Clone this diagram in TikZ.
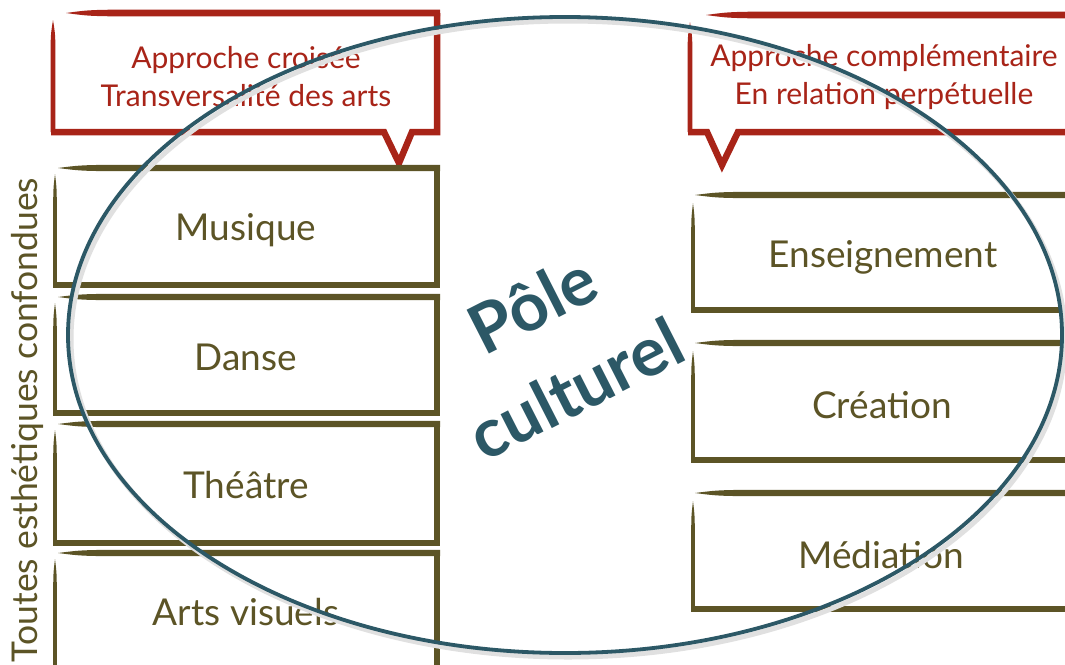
\documentclass[tikz,border=0pt]{standalone}
\usepackage{fontspec}
\setmainfont{Lato}
\definecolor{olivebr}{RGB}{92,84,38}
\definecolor{brick}{RGB}{168,36,24}
\definecolor{tealc}{RGB}{44,88,102}
\newcommand\hstroke[5]{% color, x1(tip), x2, y, half thickness
  \fill[#1] ({#2},{#4}) .. controls ({#2+25},{#4-#5}) .. ({#2+90},{#4-#5}) -- ({#3},{#4-#5}) -- ({#3},{#4+#5}) -- ({#2+90},{#4+#5}) .. controls ({#2+25},{#4+#5}) .. ({#2},{#4}) -- cycle;}
\newcommand\vstroke[5]{% color, x, y1(tip), y2, half thickness
  \fill[#1] ({#2},{#3}) .. controls ({#2-#5},{#3+15}) .. ({#2-#5},{#3+40}) -- ({#2-#5},{#4}) -- ({#2+#5},{#4}) -- ({#2+#5},{#3+40}) .. controls ({#2+#5},{#3+15}) .. ({#2},{#3}) -- cycle;}
\newcommand\leftbox[2]{%
  \hstroke{olivebr}{58}{440}{#1}{3.2}
  \draw[boxline] (437,#1) -- (437,#2) -- (53,#2);
  \vstroke{olivebr}{55}{#1+6}{#2}{1.8}}
\newcommand\rightbox[2]{%
  \hstroke{olivebr}{695}{1075}{#1}{3.2}
  \draw[boxline] (1075,#2) -- (691,#2);
  \vstroke{olivebr}{693}{#1+8}{#2}{1.8}}
\begin{document}
\begin{tikzpicture}[x=1pt,y=-1pt,
  boxline/.style={olivebr,line width=6pt,line join=miter},
  redline/.style={brick,line width=6.5pt,line join=miter},
  boxtext/.style={text=olivebr,font=\fontsize{37}{40}\selectfont,inner sep=0pt},
  calltext/.style={text=brick,font=\fontsize{30}{38}\selectfont,align=center,inner sep=0pt},
  poletext/.style={text=tealc,font=\fontsize{68}{95}\selectfont\bfseries,inner sep=0pt,align=center,rotate=27}]
\useasboundingbox (0,0) rectangle (1065,664);
\clip (0,0) rectangle (1065,664);
\fill[white] (0,0) rectangle (1065,664);
% left callout
\hstroke{brick}{66}{440}{13}{3.4}
\draw[redline] (437,13) -- (437,132) -- (412,132) -- (399,163) -- (384,132) -- (51,132);
\vstroke{brick}{53}{20}{132}{2.4}
\node[calltext] (callL) at (246,77) {Approche croisée\\Transversalité des arts};
% right callout
\hstroke{brick}{706}{1075}{15}{3.4}
\draw[redline] (1075,132) -- (738,132) -- (722,165) -- (707,132) -- (688,132);
\vstroke{brick}{690}{22}{132}{2.4}
\node[calltext] (callR) at (884,77) {Approche complémentaire\\En relation perpétuelle};
% left boxes
\leftbox{168}{285}
\leftbox{297}{413}
\leftbox{424}{543}
\leftbox{553}{690}
\node[boxtext] (musique) at (246,230) {Musique};
\node[boxtext] (danse) at (246,357) {Danse};
\node[boxtext] (theatre) at (246,485) {Théâtre};
\node[boxtext] (arts) at (246,612) {Arts visuels};
% right boxes
\rightbox{195}{310}
\rightbox{343}{460}
\rightbox{493}{609}
\node[boxtext] (ens) at (883,257) {Enseignement};
\node[boxtext] (crea) at (882,405) {Création};
\node[boxtext] (med) at (881,555) {Médiation};
% vertical label
\node[text=olivebr,font=\fontsize{35.5}{38}\selectfont,rotate=90,inner sep=0pt] (toutes) at (27,420) {Toutes esthétiques confondues};
% pole culturel
\node[poletext] (pole) at (554,346) {Pôle\\culturel};
% ellipse with faint shadow
\draw[black!12,line width=5pt] (568,339) ellipse [x radius=497pt,y radius=318pt];
\draw[tealc,line width=3.8pt] (565,335) ellipse [x radius=497pt,y radius=318pt];
\end{tikzpicture}
\end{document}
